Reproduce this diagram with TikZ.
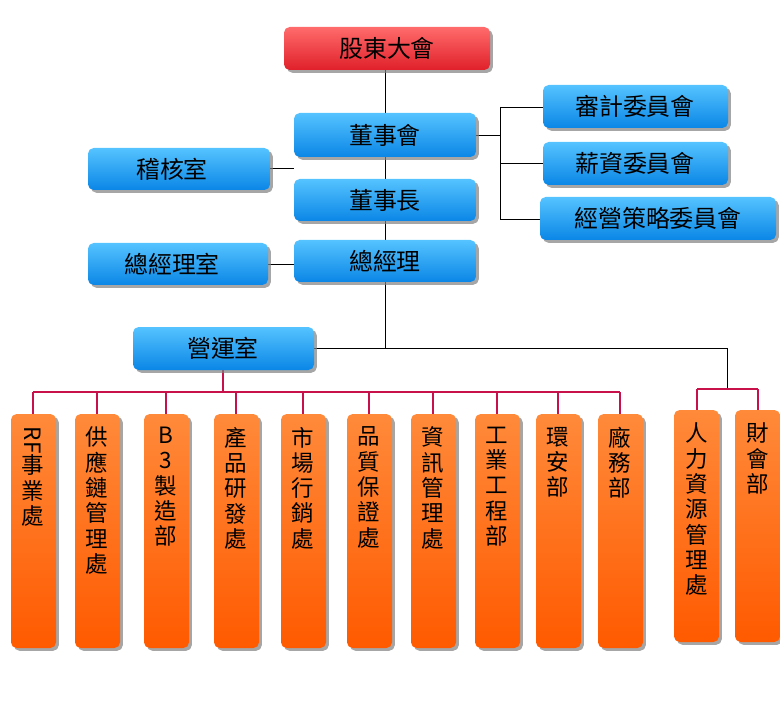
\documentclass[tikz,border=0pt]{standalone}
\usepackage{fontspec}
\setmainfont{Noto Sans CJK TC}
\usetikzlibrary{shadows}
\definecolor{bluetop}{HTML}{55C3FF}
\definecolor{bluebot}{HTML}{0A86E6}
\definecolor{orgtop}{HTML}{FF8A3A}
\definecolor{orgbot}{HTML}{FF5A00}
\definecolor{redtop}{HTML}{FF6B6B}
\definecolor{redbot}{HTML}{E0202A}
\definecolor{crim}{HTML}{C8104A}
\tikzset{
  box/.style={rounded corners=4pt,top color=bluetop,bottom color=bluebot,
    drop shadow={shadow xshift=2pt,shadow yshift=-2pt,opacity=.7},font=\fontsize{17}{17}\selectfont},
  topbox/.style={box,top color=redtop,bottom color=redbot},
  bar/.style={rounded corners=4pt,top color=orgtop,bottom color=orgbot,
    drop shadow={shadow xshift=2pt,shadow yshift=-2pt,opacity=.7}},
  bartxt/.style={anchor=north,align=center,font=\fontsize{16}{18}\selectfont},
  link/.style={black,line width=.5pt},
  plink/.style={crim,line width=.8pt}
}
\begin{document}
\begin{tikzpicture}[x=0.025cm,y=-0.025cm]
\useasboundingbox (0,0) rectangle (780,714);
% connectors
\draw[link] (385,70)--(385,348);
\draw[link] (476,135)--(500,135);
\draw[link] (500,107)--(500,219);
\draw[link] (500,107)--(543,107) (500,163)--(543,163) (500,219)--(540,219);
\draw[link] (270,168)--(294,168);
\draw[link] (268,264)--(294,264);
\draw[link] (314,348)--(727,348)--(727,389);
\draw[plink] (697,389)--(758,389);
\draw[plink] (697,389)--(697,412) (758,389)--(758,412);
\draw[plink] (223,370)--(223,392);
\draw[plink] (33,392)--(620,392);
\foreach \x in {33,97,166,236,303,369,433,497,558,620}
  \draw[plink] (\x,392)--(\x,416);
% top boxes
\node[topbox] (gd) at (387,48) {\makebox[206\pgflinewidth]{}};
\path[topbox] (284,27) rectangle (490,70);
\node (gdt) at (387,48) {\fontsize{17}{17}\selectfont 股東大會};
\path[box] (294,113) rectangle (476,157); \node (ds) at (385,135) {\fontsize{17}{17}\selectfont 董事會};
\path[box] (543,85) rectangle (728,128); \node (sj) at (635,106) {\fontsize{17}{17}\selectfont 審計委員會};
\path[box] (543,142) rectangle (728,185); \node (xz) at (635,163) {\fontsize{17}{17}\selectfont 薪資委員會};
\path[box] (540,197) rectangle (776,240); \node (jy) at (658,218) {\fontsize{17}{17}\selectfont 經營策略委員會};
\path[box] (88,148) rectangle (270,190); \node (jh) at (172,169) {\fontsize{17}{17}\selectfont 稽核室};
\path[box] (294,179) rectangle (476,221); \node (dz) at (385,200) {\fontsize{17}{17}\selectfont 董事長};
\path[box] (294,240) rectangle (476,282); \node (zj) at (385,261) {\fontsize{17}{17}\selectfont 總經理};
\path[box] (88,243) rectangle (268,285); \node (zs) at (172,264) {\fontsize{17}{17}\selectfont 總經理室};
\path[box] (133,327) rectangle (314,370); \node (yy) at (223,348) {\fontsize{17}{17}\selectfont 營運室};
% bars
\foreach \x/\t in {33/\rotatebox{-90}{RF}\\事\\業\\處, 97/供\\應\\鏈\\管\\理\\處, 166/B\\3\\製\\造\\部,
  236/產\\品\\研\\發\\處, 303/市\\場\\行\\銷\\處, 369/品\\質\\保\\證\\處, 433/資\\訊\\管\\理\\處,
  497/工\\業\\工\\程\\部, 558/環\\安\\部, 620/廠\\務\\部}{
  \path[bar] (\x-22,414) rectangle (\x+23,648);
  \node[bartxt] at (\x,422) {\t};
}
\foreach \x/\t in {697/人\\力\\資\\源\\管\\理\\處, 758/財\\會\\部}{
  \path[bar] (\x-23,410) rectangle (\x+22,642);
  \node[bartxt] at (\x,418) {\t};
}
\end{tikzpicture}
\end{document}
